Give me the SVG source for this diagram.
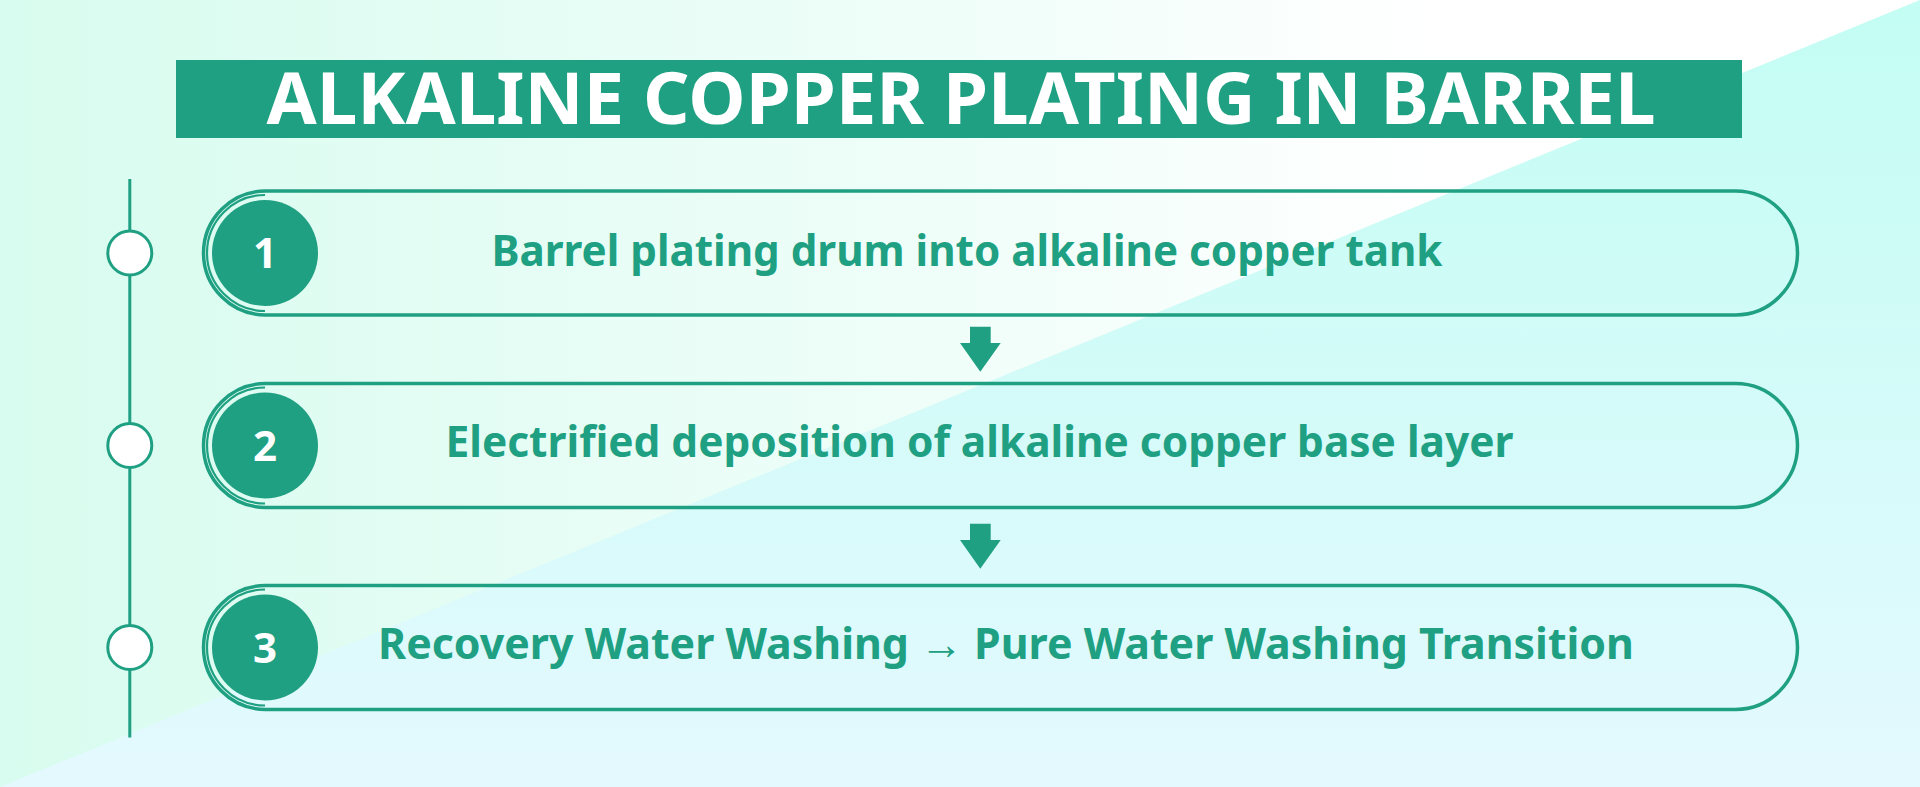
<svg xmlns="http://www.w3.org/2000/svg" width="1920" height="787" viewBox="0 0 1920 787">
  <defs>
    <linearGradient id="bgUpper" x1="0" y1="0" x2="1920" y2="0" gradientUnits="userSpaceOnUse">
      <stop offset="0" stop-color="#d8fcef"/>
      <stop offset="0.5" stop-color="#f0fef9"/>
      <stop offset="0.75" stop-color="#ffffff"/>
      <stop offset="1" stop-color="#ffffff"/>
    </linearGradient>
    <linearGradient id="bgLower" x1="0" y1="0" x2="0" y2="787" gradientUnits="userSpaceOnUse">
      <stop offset="0" stop-color="#c3fdf3"/>
      <stop offset="1" stop-color="#e4f9fe"/>
    </linearGradient>
    <path id="arrowShape" d="M970,326.7 H990.7 V343 H1000.7 L980.3,371.7 L960,343 H970 Z"/>
    <style>
      .pill{fill:none;stroke:#20a082;stroke-width:3.5}
      .ring{fill:none;stroke:#20a082;stroke-width:2.2}
      .num{fill:#20a082}
      .dot{fill:#ffffff;stroke:#20a082;stroke-width:3}
      .lbl{font-family:'Noto Sans','Open Sans','Liberation Sans',sans-serif;font-weight:700;font-size:43px;fill:#20a082}
      .numtxt{font-family:'Noto Sans','Open Sans','Liberation Sans',sans-serif;font-weight:700;font-size:42px;fill:#ffffff;text-anchor:middle}
      .title{font-family:'Noto Sans','Open Sans','Liberation Sans',sans-serif;font-weight:700;font-size:72px;fill:#ffffff}
      .arrow{fill:#20a082}
    </style>
  </defs>

  <!-- background -->
  <rect x="0" y="0" width="1920" height="787" fill="url(#bgUpper)"/>
  <polygon points="1920,0 1920,787 0,787" fill="url(#bgLower)"/>

  <!-- title -->
  <g id="title">
    <rect x="176" y="60" width="1566" height="78" fill="#20a082"/>
    <text class="title" x="266.5" y="124" textLength="1389" lengthAdjust="spacingAndGlyphs">ALKALINE COPPER PLATING IN BARREL</text>
  </g>

  <!-- timeline -->
  <g id="timeline">
    <line x1="129.8" y1="179" x2="129.8" y2="737.5" stroke="#20a082" stroke-width="3"/>
    <circle class="dot" cx="129.8" cy="253" r="22"/>
    <circle class="dot" cx="129.8" cy="445.5" r="22"/>
    <circle class="dot" cx="129.8" cy="647.5" r="22"/>
  </g>

  <!-- connectors -->
  <g id="connectors">
    <use href="#arrowShape" class="arrow"/>
    <use href="#arrowShape" class="arrow" transform="translate(0,197)"/>
  </g>

  <!-- step 1 -->
  <g id="step1">
    <rect class="pill" x="203.5" y="191" width="1594" height="124" rx="62" ry="62"/>
    <path class="ring" d="M265,195 A58,58 0 0 0 265,311"/>
    <circle class="num" cx="265" cy="253" r="53"/>
    <text class="numtxt" x="265" y="268">1</text>
    <text class="lbl" x="491.5" y="265.5" textLength="951" lengthAdjust="spacingAndGlyphs">Barrel plating drum into alkaline copper tank</text>
  </g>

  <!-- step 2 -->
  <g id="step2">
    <rect class="pill" x="203.5" y="383.5" width="1594" height="124" rx="62" ry="62"/>
    <path class="ring" d="M265,387.5 A58,58 0 0 0 265,503.5"/>
    <circle class="num" cx="265" cy="445.5" r="53"/>
    <text class="numtxt" x="265" y="460.5">2</text>
    <text class="lbl" x="445.5" y="456.5" textLength="1068" lengthAdjust="spacingAndGlyphs">Electrified deposition of alkaline copper base layer</text>
  </g>

  <!-- step 3 -->
  <g id="step3">
    <rect class="pill" x="203.5" y="585.5" width="1594" height="124" rx="62" ry="62"/>
    <path class="ring" d="M265,589.5 A58,58 0 0 0 265,705.5"/>
    <circle class="num" cx="265" cy="647.5" r="53"/>
    <text class="numtxt" x="265" y="662.5">3</text>
    <text class="lbl" x="378" y="658.5" textLength="1256" lengthAdjust="spacingAndGlyphs">Recovery Water Washing → Pure Water Washing Transition</text>
  </g>
</svg>
